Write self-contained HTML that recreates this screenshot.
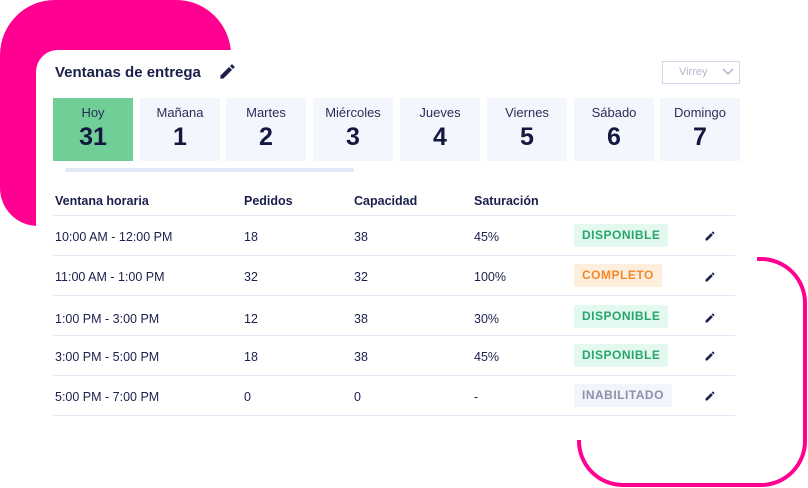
<!DOCTYPE html>
<html><head><meta charset="utf-8"><style>
*{margin:0;padding:0;box-sizing:border-box}
body{width:808px;height:488px;background:#fff;position:relative;overflow:hidden;font-family:"Liberation Sans",sans-serif;color:#1b1f4b}
.a{position:absolute}
.tab{position:absolute;top:98px;width:80px;height:63px;background:#f3f6fd;text-align:center}
.tab .l{font-size:13px;color:#2a2f55;margin-top:7px}
.tab .n{font-size:25px;font-weight:bold;margin-top:3px;color:#14183f}
.th{position:absolute;top:194px;font-size:12.5px;font-weight:bold}
.c{position:absolute;font-size:12.5px}
.line{position:absolute;left:53px;width:682px;height:1px;background:#e6e8f5}
.b{position:absolute;left:574px;height:23px;font-size:12px;font-weight:bold;letter-spacing:0.5px;padding:0 8px;line-height:23px;border-radius:2px}
.g{background:#e3f9ef;color:#27a56a}
.o{background:#fdeedd;color:#f2882a}
.x{background:#f3f5fd;color:#8c90a8}
.p{position:absolute;left:704px;width:12px;height:12px}
</style></head><body>
<div class="a" style="left:0;top:0;width:231px;height:226px;background:#ff0090;border-radius:55px 55px 10px 38px"></div>
<div class="a" style="left:577px;top:257px;width:230px;height:230px;border:4px solid #ff0090;border-radius:46px"></div>
<div class="a" style="left:36px;top:50px;width:721px;height:390px;background:#fff;border-radius:22px 0 0 0"></div>

<div class="a" style="left:55px;top:64px;font-size:15px;font-weight:bold">Ventanas de entrega</div>
<svg class="a" style="left:218px;top:62px" width="19" height="19" viewBox="0 0 24 24"><path fill="#1b1f4b" d="M3 17.25V21h3.75L17.81 9.94l-3.75-3.75L3 17.25zM20.71 7.04a1 1 0 000-1.41l-2.34-2.34a1 1 0 00-1.41 0l-1.83 1.83 3.75 3.75 1.83-1.83z"/></svg>
<div class="a" style="left:662px;top:61px;width:78px;height:23px;border:1px solid #cfd6ea;font-size:11px;color:#b3b9cc;line-height:21px;padding-left:16px">Virrey<svg style="position:absolute;right:5px;top:6px" width="12" height="8" viewBox="0 0 12 8"><path d="M1 1l5 5 5-5" fill="none" stroke="#a8b0c8" stroke-width="1.3"/></svg></div>

<div class="tab" style="left:53px;background:#6fcf97"><div class="l">Hoy</div><div class="n">31</div></div>
<div class="tab" style="left:140px"><div class="l">Mañana</div><div class="n">1</div></div>
<div class="tab" style="left:226px"><div class="l">Martes</div><div class="n">2</div></div>
<div class="tab" style="left:313px"><div class="l">Miércoles</div><div class="n">3</div></div>
<div class="tab" style="left:400px"><div class="l">Jueves</div><div class="n">4</div></div>
<div class="tab" style="left:487px"><div class="l">Viernes</div><div class="n">5</div></div>
<div class="tab" style="left:574px"><div class="l">Sábado</div><div class="n">6</div></div>
<div class="tab" style="left:660px"><div class="l">Domingo</div><div class="n">7</div></div>
<div class="a" style="left:65px;top:168px;width:289px;height:4px;background:#e1e7f4;border-radius:2px"></div>

<div class="th" style="left:55px">Ventana horaria</div>
<div class="th" style="left:244px">Pedidos</div>
<div class="th" style="left:354px">Capacidad</div>
<div class="th" style="left:474px">Saturación</div>
<div class="line" style="top:215px"></div>
<div class="line" style="top:255px"></div>
<div class="line" style="top:295px"></div>
<div class="line" style="top:335px"></div>
<div class="line" style="top:375px"></div>
<div class="line" style="top:415px"></div>

<div class="c" style="left:55px;top:230px">10:00 AM - 12:00 PM</div><div class="c" style="left:244px;top:230px">18</div><div class="c" style="left:354px;top:230px">38</div><div class="c" style="left:474px;top:230px">45%</div>
<div class="b g" style="top:224px">DISPONIBLE</div>
<div class="c" style="left:55px;top:270px">11:00 AM - 1:00 PM</div><div class="c" style="left:244px;top:270px">32</div><div class="c" style="left:354px;top:270px">32</div><div class="c" style="left:474px;top:270px">100%</div>
<div class="b o" style="top:264px">COMPLETO</div>
<div class="c" style="left:55px;top:312px">1:00 PM - 3:00 PM</div><div class="c" style="left:244px;top:312px">12</div><div class="c" style="left:354px;top:312px">38</div><div class="c" style="left:474px;top:312px">30%</div>
<div class="b g" style="top:305px">DISPONIBLE</div>
<div class="c" style="left:55px;top:350px">3:00 PM - 5:00 PM</div><div class="c" style="left:244px;top:350px">18</div><div class="c" style="left:354px;top:350px">38</div><div class="c" style="left:474px;top:350px">45%</div>
<div class="b g" style="top:344px">DISPONIBLE</div>
<div class="c" style="left:55px;top:390px">5:00 PM - 7:00 PM</div><div class="c" style="left:244px;top:390px">0</div><div class="c" style="left:354px;top:390px">0</div><div class="c" style="left:474px;top:390px">-</div>
<div class="b x" style="top:384px">INABILITADO</div>

<svg class="p" style="top:230px" viewBox="0 0 24 24"><path fill="#1b1f4b" d="M3 17.25V21h3.75L17.81 9.94l-3.75-3.75L3 17.25zM20.71 7.04a1 1 0 000-1.41l-2.34-2.34a1 1 0 00-1.41 0l-1.83 1.83 3.75 3.75 1.83-1.83z"/></svg>
<svg class="p" style="top:271px" viewBox="0 0 24 24"><path fill="#1b1f4b" d="M3 17.25V21h3.75L17.81 9.94l-3.75-3.75L3 17.25zM20.71 7.04a1 1 0 000-1.41l-2.34-2.34a1 1 0 00-1.41 0l-1.83 1.83 3.75 3.75 1.83-1.83z"/></svg>
<svg class="p" style="top:312px" viewBox="0 0 24 24"><path fill="#1b1f4b" d="M3 17.25V21h3.75L17.81 9.94l-3.75-3.75L3 17.25zM20.71 7.04a1 1 0 000-1.41l-2.34-2.34a1 1 0 00-1.41 0l-1.83 1.83 3.75 3.75 1.83-1.83z"/></svg>
<svg class="p" style="top:350px" viewBox="0 0 24 24"><path fill="#1b1f4b" d="M3 17.25V21h3.75L17.81 9.94l-3.75-3.75L3 17.25zM20.71 7.04a1 1 0 000-1.41l-2.34-2.34a1 1 0 00-1.41 0l-1.83 1.83 3.75 3.75 1.83-1.83z"/></svg>
<svg class="p" style="top:390px" viewBox="0 0 24 24"><path fill="#1b1f4b" d="M3 17.25V21h3.75L17.81 9.94l-3.75-3.75L3 17.25zM20.71 7.04a1 1 0 000-1.41l-2.34-2.34a1 1 0 00-1.41 0l-1.83 1.83 3.75 3.75 1.83-1.83z"/></svg>
</body></html>
